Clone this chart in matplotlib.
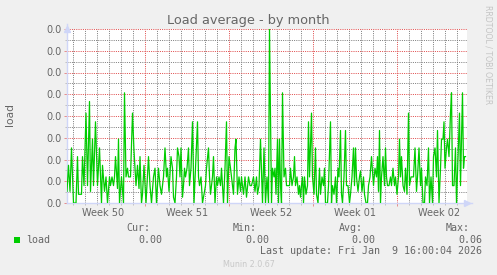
import matplotlib
matplotlib.use("Agg")
import matplotlib.pyplot as plt
from matplotlib.ticker import FixedLocator, NullFormatter
from matplotlib.transforms import blended_transform_factory
from matplotlib.patches import Rectangle

# ---------------- data ----------------
title = "Load average - by month"
y_label = "load"
series_name = "load"
# hours since the left edge of the graph (2 h per pixel, 800 h span)
hours = [0, 3, 6, 9, 13, 16, 18, 21, 23, 26, 29, 31, 34, 38, 41, 45, 47, 51, 53, 57,
         61, 65, 69, 71, 75, 78, 81, 85, 87, 90, 93, 95, 97, 101, 103, 105, 109, 113, 115, 118,
         121, 123, 127, 131, 134, 138, 141, 144, 146, 149, 151, 154, 158, 163, 166, 169, 173, 176, 179, 183,
         186, 189, 193,
         196, 199, 201, 204, 208, 211, 213, 216, 219, 221, 224, 226, 228, 231, 233, 235, 237, 240, 243, 245,
         248, 251, 254, 257, 261, 263, 265, 268, 271, 275, 277, 279, 283, 285, 287, 291, 293, 296, 299, 301,
         304, 307, 309, 313, 316, 319, 321, 324, 327, 329, 333, 336, 338, 341, 344, 347, 349, 353, 356, 359,
         363, 366, 369, 373, 376, 379, 381, 384, 387, 391, 394, 397, 400, 403, 405,
         409, 411, 414, 416, 418, 421, 423, 425, 427, 429, 431, 434, 437, 439, 445, 447, 450, 453, 455, 457,
         460, 463, 465, 467, 469, 471, 473, 475, 478, 481, 483, 485, 489, 491, 494, 497, 499, 502, 505, 507,
         510, 513, 515, 517, 521, 523, 527, 529, 531, 534, 537, 539, 542, 544, 547, 549, 551, 554, 557, 559,
         562, 565, 567, 570, 573, 575, 577, 579, 582, 585, 587, 590, 593, 595, 598, 601, 603, 606, 609, 613,
         616, 619, 621, 623, 625, 627, 629, 632, 635, 637, 639, 641, 644, 647, 649, 652, 655, 657, 660, 663,
         665, 667, 669, 672, 675, 677, 680, 683, 685, 688, 693, 696, 699, 701, 704, 707, 709, 712, 715, 717,
         720, 723, 725, 728, 731, 733, 736, 739, 741, 744, 747, 749, 752, 754, 756, 759, 761, 764, 767, 769,
         771, 774, 777, 779, 782, 785, 787, 791, 793, 795, 797]
load = [0.004, 0.013, 0.004, 0.019, 0.0, 0.0, 0.0, 0.016, 0.003, 0.003, 0.003, 0.016, 0.006, 0.031, 0.006, 0.035, 0.004, 0.022, 0.006, 0.028,
        0.006, 0.019, 0.0, 0.013, 0.004, 0.009, 0.0, 0.009, 0.006, 0.009, 0.006, 0.009, 0.016, 0.005, 0.022, 0.0, 0.009, 0.0, 0.038, 0.009,
        0.012, 0.009, 0.009, 0.031, 0.018, 0.006, 0.013, 0.005, 0.016, 0.0, 0.003, 0.013, 0.0, 0.016, 0.006, 0.0, 0.009, 0.012, 0.0, 0.012,
        0.006, 0.003, 0.009,
        0.019, 0.009, 0.012, 0.004, 0.016, 0.012, 0.002, 0.0, 0.009, 0.019, 0.016, 0.009, 0.019, 0.002, 0.006, 0.012, 0.009, 0.012, 0.019, 0.006,
        0.012, 0.028, 0.0, 0.012, 0.028, 0.009, 0.006, 0.009, 0.0, 0.004, 0.006, 0.012, 0.019, 0.009, 0.003, 0.009, 0.016, 0.0, 0.009, 0.006,
        0.009, 0.006, 0.012, 0.0, 0.012, 0.028, 0.0, 0.016, 0.012, 0.009, 0.003, 0.019, 0.022, 0.003, 0.009, 0.004, 0.009, 0.003, 0.009, 0.002,
        0.009, 0.006, 0.006, 0.009, 0.004, 0.009, 0.003, 0.006, 0.022, 0.0, 0.019, 0.0, 0.009, 0.0, 0.060,
        0.0, 0.012, 0.009, 0.012, 0.003, 0.022, 0.0, 0.022, 0.006, 0.0, 0.038, 0.009, 0.012, 0.006, 0.006, 0.012, 0.006, 0.009, 0.016, 0.006,
        0.009, 0.003, 0.006, 0.002, 0.006, 0.009, 0.0, 0.009, 0.003, 0.006, 0.028, 0.009, 0.031, 0.009, 0.003, 0.019, 0.003, 0.0, 0.012, 0.003,
        0.009, 0.006, 0.012, 0.0, 0.0, 0.006, 0.028, 0.0, 0.006, 0.003, 0.009, 0.0, 0.012, 0.009, 0.025, 0.003, 0.0, 0.009, 0.025, 0.006,
        0.006, 0.0, 0.003, 0.009, 0.019, 0.006, 0.019, 0.009, 0.004, 0.009, 0.011, 0.004, 0.009, 0.003, 0.0, 0.0, 0.006, 0.009, 0.016, 0.006,
        0.012, 0.009, 0.016, 0.004, 0.025, 0.0, 0.009, 0.016, 0.006, 0.019, 0.009, 0.006, 0.006, 0.009, 0.006, 0.012, 0.006, 0.009, 0.003, 0.009,
        0.022, 0.009, 0.016, 0.006, 0.004, 0.012, 0.003, 0.031, 0.006, 0.009, 0.009, 0.019, 0.004, 0.009, 0.019, 0.006, 0.012, 0.0, 0.0, 0.009,
        0.006, 0.019, 0.0, 0.009, 0.0, 0.016, 0.019, 0.009, 0.025, 0.0, 0.012, 0.022, 0.022, 0.028, 0.012, 0.019, 0.022, 0.016, 0.031, 0.038,
        0.006, 0.006, 0.019, 0.0, 0.016, 0.031, 0.006, 0.038, 0.012, 0.016, 0.016]
week_labels = ["Week 50", "Week 51", "Week 52", "Week 01", "Week 02"]
y_tick_labels = ["0.0"] * 9
stat_titles = ["Cur:", "Min:", "Avg:", "Max:"]
stat_values = ["0.00", "0.00", "0.00", "0.06"]
last_update = "Last update: Fri Jan  9 16:00:04 2026"
munin_version = "Munin 2.0.67"
watermark = "RRDTOOL / TOBI OETIKER"

# ---------------- layout / style ----------------
W, H = 497, 275
BG = "#F0F0F0"
FONT = "#666666"
AXIS = "#CFD6F8"
GRID = (0.5, 0.5, 0.5, 0.22)
MGRID = (0.88, 0.31, 0.31, 0.25)
LINE = "#00CC00"
MONO = "DejaVu Sans Mono"

span = 800.0
first_day = 12.6
first_week = 156.6
y_top = 0.06

fig = plt.figure(figsize=(W / 100, H / 100), dpi=100, facecolor=BG)
ax = fig.add_axes([67 / W, (H - 203) / H, 400 / W, 174 / H])
ax.set_facecolor("white")

def fx(px):
    return px / W

def fy(py):
    return 1 - py / H

week_lines = [first_week + 168 * k for k in range(10) if first_week + 168 * k < span]
day_lines = [first_day + 24 * k for k in range(40)
             if first_day + 24 * k < span and all(abs(first_day + 24 * k - w) > 1 for w in week_lines)]
week_centers = [week_lines[0] - 84 + 168 * k for k in range(len(week_labels))]

ystep = y_top / 8
ymaj = [i * ystep for i in range(9)]
ymin = [i * ystep + ystep / 2 for i in range(8)]

ax.set_xlim(0, span)
ax.set_ylim(0, y_top)

ax.xaxis.set_major_locator(FixedLocator(week_lines))
ax.xaxis.set_minor_locator(FixedLocator(day_lines))
ax.xaxis.set_major_formatter(NullFormatter())
ax.yaxis.set_major_locator(FixedLocator(ymaj))
ax.yaxis.set_minor_locator(FixedLocator(ymin))
ax.set_yticklabels(y_tick_labels)

ax.grid(which="major", color=MGRID, linestyle=(0, (1, 1.2)), linewidth=0.72)
ax.grid(which="minor", color=GRID, linestyle=(0, (1, 1.2)), linewidth=0.72)
ax.set_axisbelow(True)

ax.tick_params(axis="x", which="major", length=2.2, width=0.72, color=(0.878, 0.314, 0.314, 0.6), labelbottom=False)
ax.tick_params(axis="x", which="minor", length=1.6, width=0.72, color=(0.56, 0.56, 0.56, 0.5))
ax.tick_params(axis="y", which="major", length=2.2, width=0.72, color=(0.878, 0.314, 0.314, 0.6),
               labelsize=7, labelcolor=FONT, pad=1.5)
ax.tick_params(axis="y", which="minor", length=1.6, width=0.72, color=(0.56, 0.56, 0.56, 0.5))

for s in ["top", "right"]:
    ax.spines[s].set_visible(False)
for s in ["left", "bottom"]:
    ax.spines[s].set_color(AXIS)
    ax.spines[s].set_linewidth(1.0)

ax.plot(hours, load, color=LINE, linewidth=0.9, zorder=3, clip_on=True)

# arrows
ax.plot([0], [1.0], marker="^", color=AXIS, markersize=4.5, transform=ax.transAxes, clip_on=False, zorder=4)
ax.plot([0, 0], [1.0, 1.03], color=AXIS, lw=1.0, transform=ax.transAxes, clip_on=False)
ax.plot([1.0], [0], marker=">", color=AXIS, markersize=4.5, transform=ax.transAxes, clip_on=False, zorder=4)
ax.plot([1.0, 1.012], [0, 0], color=AXIS, lw=1.0, transform=ax.transAxes, clip_on=False)

# week labels
bt = blended_transform_factory(ax.transData, fig.transFigure)
for c, lbl in zip(week_centers, week_labels):
    ax.text(c, fy(215.5), lbl, transform=bt, ha="center", va="baseline", fontsize=7, color=FONT, clip_on=False)

# title, y label, watermark
fig.text(0.5, fy(24.3), title, ha="center", va="baseline", fontsize=9.3, color=FONT)
fig.text(fx(10), fy(115), y_label, rotation=90, ha="center", va="center", fontsize=7.7, color=FONT)
fig.text(fx(488), fy(5), watermark, rotation=270, ha="center", va="top", fontsize=5.6, color="#C4C4C4")

# legend
fig.patches.append(Rectangle((fx(14), fy(242.7)), 6 / W, 6 / H, transform=fig.transFigure,
                             facecolor=LINE, edgecolor="none"))
fig.text(fx(26.5), fy(242.7), series_name, ha="left", va="baseline", fontsize=7.2, family=MONO, color=FONT)
title_right = [150, 256.7, 363.3, 470]
value_right = [162.7, 269.3, 375.7, 482.3]
for t, v, tr, vr in zip(stat_titles, stat_values, title_right, value_right):
    fig.text(fx(tr), fy(231), t, ha="right", va="baseline", fontsize=7.2, family=MONO, color=FONT)
    fig.text(fx(vr), fy(242.7), v, ha="right", va="baseline", fontsize=7.2, family=MONO, color=FONT)
fig.text(fx(482.3), fy(254.3), last_update, ha="right", va="baseline", fontsize=7.2, family=MONO, color=FONT)
fig.text(fx(223), fy(267), munin_version, ha="left", va="baseline", fontsize=5.8, color="#C8C8C8")

fig.savefig("out.png", dpi=100, facecolor=BG)
